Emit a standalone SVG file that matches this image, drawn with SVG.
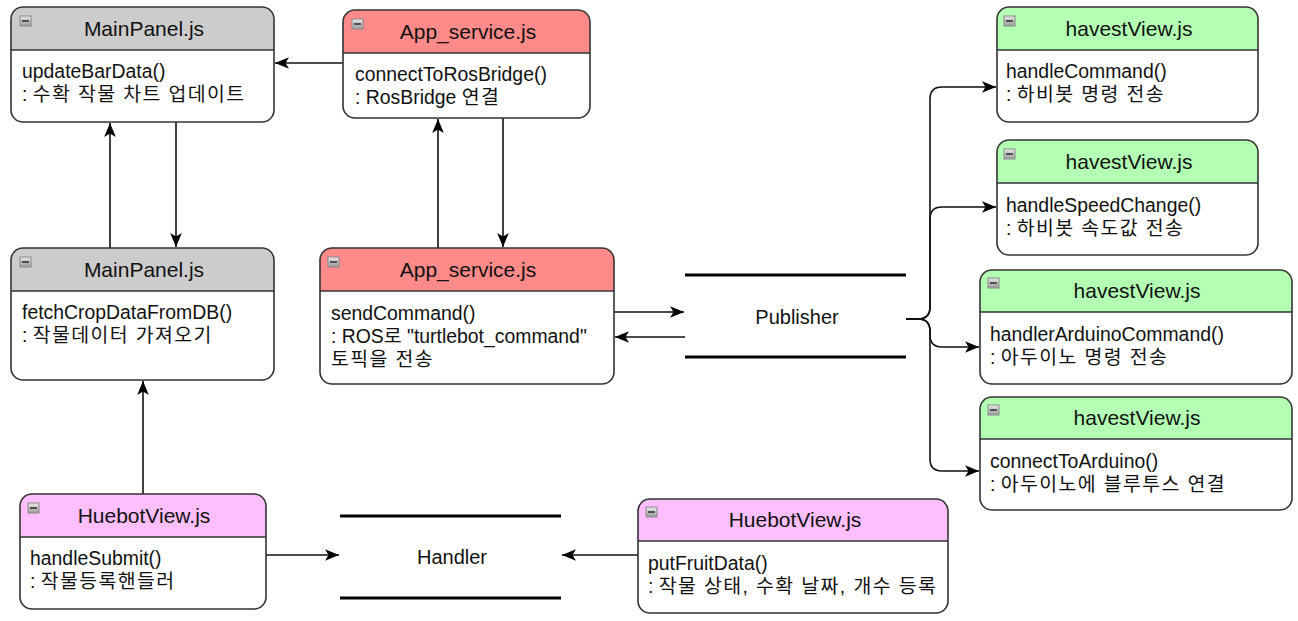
<svg xmlns="http://www.w3.org/2000/svg" width="1298" height="621" viewBox="0 0 1298 621">
<style>
.box{fill:none;stroke:#333;stroke-width:1.6}
.sep{stroke:#333;stroke-width:1.6}
.title{font-family:"Liberation Sans","Noto Sans CJK KR",sans-serif;font-size:21px;fill:#111;text-anchor:middle}
.body{font-family:"Liberation Sans","Noto Sans CJK KR",sans-serif;font-size:19.4px;fill:#111}
.ko{letter-spacing:1.4px}
.lbl{font-family:"Liberation Sans","Noto Sans CJK KR",sans-serif;font-size:20px;fill:#111;text-anchor:middle}
.conn{fill:none;stroke:#111;stroke-width:1.6}
.bar{stroke:#000;stroke-width:3}
.gray{fill:#CCCCCC}.red{fill:#FF8A8A}.green{fill:#B3FFB3}.pink{fill:#FFBFFF}
</style>
<defs>
<marker id="arr" viewBox="0 0 12 10" markerWidth="14" markerHeight="12" markerUnits="userSpaceOnUse" refX="12" refY="5" orient="auto">
<path d="M0,0 L12,5 L0,10 L3,5 Z" fill="#000"/>
</marker>
<linearGradient id="ig" x1="0" y1="0" x2="0" y2="1"><stop offset="0" stop-color="#e8e8e8"/><stop offset="1" stop-color="#9a9a9a"/></linearGradient>
<g id="icon"><rect x="0" y="0" width="11" height="10" fill="url(#ig)" stroke="#888" stroke-width="1"/><line x1="2" y1="5" x2="9" y2="5" stroke="#333" stroke-width="1.6"/></g>
</defs>
<rect width="1298" height="621" fill="#fff"/>

<g id="connectors">
<line class="conn" x1="343" y1="63" x2="275" y2="63" marker-end="url(#arr)"/>
<line class="conn" x1="110" y1="248" x2="110" y2="123" marker-end="url(#arr)"/>
<line class="conn" x1="176" y1="122" x2="176" y2="247" marker-end="url(#arr)"/>
<line class="conn" x1="438" y1="248" x2="438" y2="119" marker-end="url(#arr)"/>
<line class="conn" x1="503" y1="118" x2="503" y2="247" marker-end="url(#arr)"/>
<line class="conn" x1="614" y1="312" x2="684" y2="312" marker-end="url(#arr)"/>
<line class="conn" x1="685" y1="337" x2="615" y2="337" marker-end="url(#arr)"/>
<line class="conn" x1="143" y1="494" x2="143" y2="381" marker-end="url(#arr)"/>
<line class="conn" x1="266" y1="555" x2="339" y2="555" marker-end="url(#arr)"/>
<line class="conn" x1="638" y1="555" x2="562" y2="555" marker-end="url(#arr)"/>
<path class="conn" d="M906,319 H918 Q930,319 930,307 V99 Q930,87 942,87 H996" marker-end="url(#arr)"/>
<path class="conn" d="M906,319 H918 Q930,319 930,307 V219 Q930,207 942,207 H996" marker-end="url(#arr)"/>
<path class="conn" d="M906,319 H918 Q930,319 930,331 V335 Q930,347 942,347 H979" marker-end="url(#arr)"/>
<path class="conn" d="M906,319 H918 Q930,319 930,331 V459 Q930,471 942,471 H979" marker-end="url(#arr)"/>
</g>

<g id="mainpanel-top">
<rect x="11" y="7" width="263" height="115" rx="12" fill="#fff"/>
<path class="gray" d="M11,50 V19 A12,12 0 0 1 23,7 H262 A12,12 0 0 1 274,19 V50 Z"/>
<line class="sep" x1="11" y1="50" x2="274" y2="50"/>
<rect class="box" x="11" y="7" width="263" height="115" rx="12"/>
<use href="#icon" x="20" y="16"/>
<text class="title" x="144" y="36">MainPanel.js</text>
<text class="body" x="22" y="78">updateBarData()</text>
<text class="body" x="22" y="101">: <tspan class="ko">수확 작물 차트 업데이트</tspan></text>
</g>

<g id="appservice-top">
<rect x="343" y="10" width="247" height="108" rx="12" fill="#fff"/>
<path class="red" d="M343,53 V22 A12,12 0 0 1 355,10 H578 A12,12 0 0 1 590,22 V53 Z"/>
<line class="sep" x1="343" y1="53" x2="590" y2="53"/>
<rect class="box" x="343" y="10" width="247" height="108" rx="12"/>
<use href="#icon" x="352" y="19"/>
<text class="title" x="468" y="39">App_service.js</text>
<text class="body" x="355" y="81">connectToRosBridge()</text>
<text class="body" x="355" y="104">: RosBridge <tspan class="ko">연결</tspan></text>
</g>

<g id="mainpanel-mid">
<rect x="11" y="248" width="263" height="132" rx="12" fill="#fff"/>
<path class="gray" d="M11,291 V260 A12,12 0 0 1 23,248 H262 A12,12 0 0 1 274,260 V291 Z"/>
<line class="sep" x1="11" y1="291" x2="274" y2="291"/>
<rect class="box" x="11" y="248" width="263" height="132" rx="12"/>
<use href="#icon" x="20" y="257"/>
<text class="title" x="144" y="277">MainPanel.js</text>
<text class="body" x="22" y="319">fetchCropDataFromDB()</text>
<text class="body" x="22" y="342">: <tspan class="ko">작물데이터 가져오기</tspan></text>
</g>

<g id="appservice-mid">
<rect x="320" y="248" width="294" height="136" rx="12" fill="#fff"/>
<path class="red" d="M320,291 V260 A12,12 0 0 1 332,248 H602 A12,12 0 0 1 614,260 V291 Z"/>
<line class="sep" x1="320" y1="291" x2="614" y2="291"/>
<rect class="box" x="320" y="248" width="294" height="136" rx="12"/>
<use href="#icon" x="328" y="257"/>
<text class="title" x="468" y="277">App_service.js</text>
<text class="body" x="331" y="320">sendCommand()</text>
<text class="body" x="331" y="343">: ROS로 "turtlebot_command"</text>
<text class="body ko" x="331" y="366">토픽을 전송</text>
</g>

<g id="publisher">
<line class="bar" x1="685" y1="275" x2="906" y2="275"/>
<line class="bar" x1="685" y1="357" x2="906" y2="357"/>
<text class="lbl" x="797" y="324">Publisher</text>
</g>

<g id="havest-1">
<rect x="997" y="7" width="261" height="115" rx="12" fill="#fff"/>
<path class="green" d="M997,50 V19 A12,12 0 0 1 1009,7 H1246 A12,12 0 0 1 1258,19 V50 Z"/>
<line class="sep" x1="997" y1="50" x2="1258" y2="50"/>
<rect class="box" x="997" y="7" width="261" height="115" rx="12"/>
<use href="#icon" x="1004" y="16"/>
<text class="title" x="1129" y="36">havestView.js</text>
<text class="body" x="1006" y="78">handleCommand()</text>
<text class="body" x="1006" y="101">: <tspan class="ko">하비봇 명령 전송</tspan></text>
</g>

<g id="havest-2">
<rect x="997" y="140" width="261" height="115" rx="12" fill="#fff"/>
<path class="green" d="M997,183 V152 A12,12 0 0 1 1009,140 H1246 A12,12 0 0 1 1258,152 V183 Z"/>
<line class="sep" x1="997" y1="183" x2="1258" y2="183"/>
<rect class="box" x="997" y="140" width="261" height="115" rx="12"/>
<use href="#icon" x="1004" y="149"/>
<text class="title" x="1129" y="169">havestView.js</text>
<text class="body" x="1006" y="212">handleSpeedChange()</text>
<text class="body" x="1006" y="235">: <tspan class="ko">하비봇 속도값 전송</tspan></text>
</g>

<g id="havest-3">
<rect x="980" y="270" width="312" height="114" rx="12" fill="#fff"/>
<path class="green" d="M980,312 V282 A12,12 0 0 1 992,270 H1280 A12,12 0 0 1 1292,282 V312 Z"/>
<line class="sep" x1="980" y1="312" x2="1292" y2="312"/>
<rect class="box" x="980" y="270" width="312" height="114" rx="12"/>
<use href="#icon" x="988" y="278"/>
<text class="title" x="1137" y="298">havestView.js</text>
<text class="body" x="990" y="341">handlerArduinoCommand()</text>
<text class="body" x="990" y="364">: <tspan class="ko">아두이노 명령 전송</tspan></text>
</g>

<g id="havest-4">
<rect x="980" y="397" width="312" height="113" rx="12" fill="#fff"/>
<path class="green" d="M980,439 V409 A12,12 0 0 1 992,397 H1280 A12,12 0 0 1 1292,409 V439 Z"/>
<line class="sep" x1="980" y1="439" x2="1292" y2="439"/>
<rect class="box" x="980" y="397" width="312" height="113" rx="12"/>
<use href="#icon" x="988" y="405"/>
<text class="title" x="1137" y="425">havestView.js</text>
<text class="body" x="990" y="468">connectToArduino()</text>
<text class="body" x="990" y="491">: <tspan class="ko">아두이노에 블루투스 연결</tspan></text>
</g>

<g id="huebot-left">
<rect x="20" y="494" width="246" height="115" rx="12" fill="#fff"/>
<path class="pink" d="M20,537 V506 A12,12 0 0 1 32,494 H254 A12,12 0 0 1 266,506 V537 Z"/>
<line class="sep" x1="20" y1="537" x2="266" y2="537"/>
<rect class="box" x="20" y="494" width="246" height="115" rx="12"/>
<use href="#icon" x="28" y="503"/>
<text class="title" x="144" y="523">HuebotView.js</text>
<text class="body" x="30" y="565">handleSubmit()</text>
<text class="body" x="30" y="588">: <tspan class="ko">작물등록핸들러</tspan></text>
</g>

<g id="handler">
<line class="bar" x1="340" y1="516" x2="561" y2="516"/>
<line class="bar" x1="340" y1="598" x2="561" y2="598"/>
<text class="lbl" x="452" y="564">Handler</text>
</g>

<g id="huebot-right">
<rect x="638" y="499" width="310" height="114" rx="12" fill="#fff"/>
<path class="pink" d="M638,541 V511 A12,12 0 0 1 650,499 H936 A12,12 0 0 1 948,511 V541 Z"/>
<line class="sep" x1="638" y1="541" x2="948" y2="541"/>
<rect class="box" x="638" y="499" width="310" height="114" rx="12"/>
<use href="#icon" x="646" y="507"/>
<text class="title" x="795" y="527">HuebotView.js</text>
<text class="body" x="648" y="570">putFruitData()</text>
<text class="body" x="648" y="593">: <tspan class="ko">작물 상태, 수확 날짜, 개수 등록</tspan></text>
</g>
</svg>
